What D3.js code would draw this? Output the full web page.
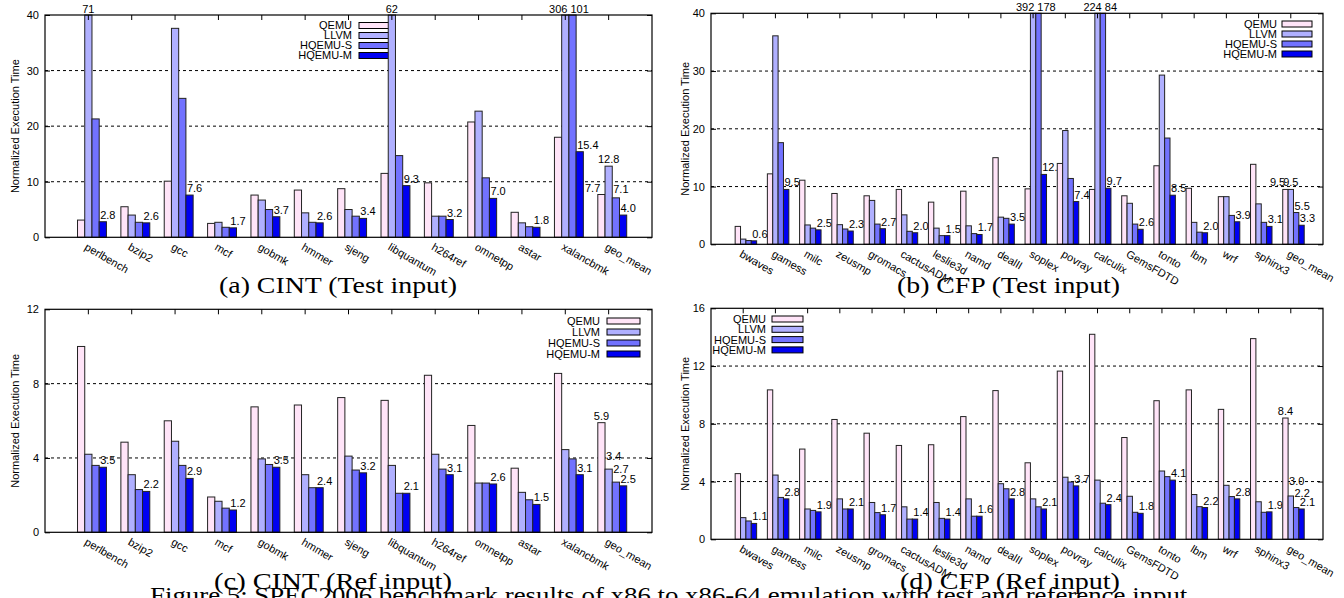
<!DOCTYPE html>
<html><head><meta charset="utf-8">
<script src="https://cdn.jsdelivr.net/npm/d3@7"></script>
<style>body{margin:0;background:#fff} svg{display:block}</style>
</head><body>
<svg id="chart" width="1344" height="598"></svg>
<script>
// ---------- data ----------
const seriesNames = ["QEMU", "LLVM", "HQEMU-S", "HQEMU-M"];
const seriesColors = ["#ffe4f8", "#b0b0ff", "#7272ff", "#0000f2"];

const cintCategories = ["perlbench","bzip2","gcc","mcf","gobmk","hmmer","sjeng","libquantum","h264ref","omnetpp","astar","xalancbmk","geo_mean"];
const cfpCategories = ["bwaves","gamess","milc","zeusmp","gromacs","cactusADM","leslie3d","namd","dealII","soplex","povray","calculix","GemsFDTD","tonto","lbm","wrf","sphinx3","geo_mean"];

// (a) CINT, test input
const cintTestQEMU  = [3.1, 5.5, 10.1, 2.5, 7.6, 8.5, 8.75, 11.5, 9.8, 20.75, 4.5, 18.0, 7.7];
const cintTestLLVM  = [71, 4.0, 37.6, 2.7, 6.7, 4.4, 5.0, 62, 3.8, 22.7, 2.6, 306, 12.8];
const cintTestHQS   = [21.3, 2.7, 25.0, 1.8, 5.0, 2.7, 3.8, 14.7, 3.8, 10.7, 1.9, 101, 7.1];
const cintTestHQM   = [2.8, 2.6, 7.6, 1.7, 3.7, 2.6, 3.4, 9.3, 3.2, 7.0, 1.8, 15.4, 4.0];

// (b) CFP, test input
const cfpTestQEMU = [3.1, 12.2, 11.1, 8.8, 8.4, 9.5, 7.3, 9.2, 15.0, 9.6, 14.0, 9.5, 8.4, 13.6, 9.7, 8.25, 13.85, 9.5];
const cfpTestLLVM = [0.9, 36.1, 3.35, 3.4, 7.6, 5.1, 2.8, 3.2, 4.7, 392, 19.7, 224, 7.1, 29.3, 3.8, 8.25, 7.0, 9.5];
const cfpTestHQS  = [0.65, 17.6, 2.8, 2.65, 3.5, 2.25, 1.5, 1.85, 4.5, 178, 11.4, 84, 3.5, 18.4, 2.1, 5.0, 3.8, 5.5];
const cfpTestHQM  = [0.6, 9.5, 2.5, 2.3, 2.7, 2.0, 1.5, 1.7, 3.5, 12.1, 7.4, 9.7, 2.6, 8.5, 2.0, 3.9, 3.1, 3.3];

// (c) CINT, ref input
const cintRefQEMU = [10.0, 4.85, 6.0, 1.9, 6.75, 6.85, 7.25, 7.1, 8.45, 5.75, 3.45, 8.55, 5.9];
const cintRefLLVM = [4.2, 3.1, 4.9, 1.67, 3.95, 3.1, 4.1, 3.6, 4.2, 2.65, 2.15, 4.45, 3.4];
const cintRefHQS  = [3.6, 2.3, 3.6, 1.3, 3.65, 2.4, 3.35, 2.1, 3.4, 2.65, 1.75, 3.95, 2.7];
const cintRefHQM  = [3.5, 2.2, 2.9, 1.2, 3.5, 2.4, 3.2, 2.1, 3.1, 2.6, 1.5, 3.1, 2.5];

// (d) CFP, ref input
const cfpRefQEMU = [4.55, 10.35, 6.25, 8.3, 7.35, 6.5, 6.55, 8.5, 10.3, 5.3, 11.65, 14.2, 7.05, 9.6, 10.35, 9.0, 13.9, 8.4];
const cfpRefLLVM = [1.5, 4.45, 2.1, 2.8, 2.55, 2.25, 2.55, 2.8, 3.85, 2.8, 4.3, 4.1, 2.98, 4.73, 3.1, 3.74, 2.6, 3.0];
const cfpRefHQS  = [1.27, 2.9, 2.0, 2.1, 1.85, 1.4, 1.45, 1.6, 3.5, 2.25, 3.97, 2.5, 1.87, 4.34, 2.26, 2.96, 1.87, 2.2];
const cfpRefHQM  = [1.1, 2.8, 1.9, 2.1, 1.7, 1.4, 1.4, 1.6, 2.8, 2.1, 3.7, 2.4, 1.8, 4.1, 2.2, 2.8, 1.9, 2.1];

const yTicksTest = [0, 10, 20, 30, 40];
const yTicksCintRef = [0, 4, 8, 12];
const yTicksCfpRef = [0, 4, 8, 12, 16];

const yAxisTitle = "Normalized Execution Time";
const captionA = "(a) CINT (Test input)";
const captionB = "(b) CFP (Test input)";
const captionC = "(c) CINT (Ref input)";
const captionD = "(d) CFP (Ref input)";
const figureCaption = "Figure 5: SPEC2006 benchmark results of x86 to x86-64 emulation with test and reference input.";

// ---------- layout ----------
const panels = [
  { cats: cintCategories, data: [cintTestQEMU, cintTestLLVM, cintTestHQS, cintTestHQM], yTicks: yTicksTest,
    box: {l: 45, r: 652, t: 15, b: 237.3}, ylabX: 18.5,
    legend: {tr: 352, sx: 359, sw: 34, y0: 25.5, dy: 10},
    geoAnchors: ["end", "middle", "start", "start"], geoRaise: [0, 0, 2, 0],
    caption: captionA, cap: {x: 219, y: 293, w: 238} },
  { cats: cfpCategories, data: [cfpTestQEMU, cfpTestLLVM, cfpTestHQS, cfpTestHQM], yTicks: yTicksTest,
    box: {l: 711, r: 1323, t: 13.3, b: 244.3}, ylabX: 688.5,
    legend: {tr: 1277, sx: 1282, sw: 30, y0: 24, dy: 10},
    geoAnchors: ["end", "middle", "start", "start"], geoRaise: [0, 0, 0, 0],
    caption: captionB, cap: {x: 897, y: 293, w: 223} },
  { cats: cintCategories, data: [cintRefQEMU, cintRefLLVM, cintRefHQS, cintRefHQM], yTicks: yTicksCintRef,
    box: {l: 45, r: 652, t: 309.3, b: 532.3}, ylabX: 18.5,
    legend: {tr: 600, sx: 607, sw: 33, y0: 321, dy: 11},
    geoAnchors: ["middle", "start", "start", "start"], geoRaise: [0, 6, 6, 0],
    caption: captionC, cap: {x: 214, y: 589, w: 238} },
  { cats: cfpCategories, data: [cfpRefQEMU, cfpRefLLVM, cfpRefHQS, cfpRefHQM], yTicks: yTicksCfpRef,
    box: {l: 711, r: 1323, t: 308.3, b: 539.3}, ylabX: 688.5,
    legend: {tr: 766, sx: 772, sw: 31, y0: 319, dy: 10.3},
    geoAnchors: ["middle", "start", "start", "start"], geoRaise: [0, 8, 8, 0],
    caption: captionD, cap: {x: 900, y: 589, w: 220} }
];

const sans = "'Liberation Sans', Arial, Helvetica, sans-serif";
const serif = "'Liberation Serif', 'DejaVu Serif', serif";
const svg = d3.select("#chart");
svg.append("rect").attr("width", 1344).attr("height", 598).attr("fill", "#fff");

panels.forEach(p => {
  const g = svg.append("g").attr("font-family", sans);
  const n = p.cats.length;
  const yMax = d3.max(p.yTicks);
  const s = (p.box.r - p.box.l) / (n + 1);
  const x = d3.scaleBand().domain(p.cats).range([p.box.l + s / 2, p.box.r - s / 2]).padding(0);
  const w = s / 6;
  const xs = d3.scaleBand().domain(seriesNames).range([-1.5 * w, 2.5 * w]).padding(0);
  const y = d3.scaleLinear().domain([0, yMax]).range([p.box.b, p.box.t]);
  const cx = c => x(c) + x.bandwidth() / 2;
  const barLeft = (c, j) => cx(c) + xs(seriesNames[j]);

  // grid (dotted, interior ticks)
  g.append("g").selectAll("line").data(p.yTicks.filter(t => t > 0 && t < yMax)).join("line")
    .attr("x1", p.box.l).attr("x2", p.box.r)
    .attr("y1", d => y(d)).attr("y2", d => y(d))
    .attr("stroke", "#000").attr("stroke-width", 1).attr("stroke-dasharray", "3,3");

  // legend
  const lg = g.append("g").attr("font-size", 11);
  seriesNames.forEach((nm, j) => {
    const yy = p.legend.y0 + j * p.legend.dy;
    lg.append("text").attr("x", p.legend.tr).attr("y", yy).attr("dy", "0.36em")
      .attr("text-anchor", "end").attr("fill", "#000").text(nm);
    lg.append("rect").attr("x", p.legend.sx).attr("y", yy - 3).attr("width", p.legend.sw).attr("height", 6)
      .attr("fill", seriesColors[j]).attr("stroke", "#000").attr("stroke-width", 1);
  });

  // value labels
  const labels = [];
  p.cats.forEach((c, i) => {
    const vals = p.data.map(a => a[i]);
    const over = [];
    vals.forEach((v, j) => { if (v > yMax) over.push(j); });
    if (over.length) {
      labels.push({
        x: d3.mean(over, j => barLeft(c, j) + w / 2), y: p.box.t - 2.5, anchor: "middle",
        text: over.map(j => d3.format("d")(vals[j])).join(" ")
      });
    }
    const isGeo = c === "geo_mean";
    (isGeo ? [0, 1, 2, 3] : [3]).forEach(j => {
      const v = vals[j];
      if (v > yMax) return;
      const anchor = isGeo ? p.geoAnchors[j] : "start";
      const raise = isGeo ? p.geoRaise[j] : 0;
      const left = barLeft(c, j);
      const xx = anchor === "start" ? left + 1 : anchor === "middle" ? left + w / 2 : left + 2.5;
      labels.push({x: xx, y: y(v) - 3 - raise, anchor, text: d3.format(".1f")(v)});
    });
  });
  g.append("g").attr("font-size", 11).selectAll("text").data(labels).join("text")
    .attr("x", d => d.x).attr("y", d => d.y).attr("text-anchor", d => d.anchor)
    .attr("fill", "#000").text(d => d.text);

  // bars
  const bars = [];
  p.cats.forEach((c, i) => seriesNames.forEach((nm, j) => bars.push({c, j, v: p.data[j][i]})));
  g.append("g").selectAll("rect").data(bars).join("rect")
    .attr("x", d => barLeft(d.c, d.j)).attr("width", xs.bandwidth())
    .attr("y", d => y(Math.min(d.v, yMax)))
    .attr("height", d => p.box.b - y(Math.min(d.v, yMax)))
    .attr("fill", d => seriesColors[d.j])
    .attr("stroke", "#222").attr("stroke-width", 1);

  // frame
  g.append("rect").attr("x", p.box.l).attr("y", p.box.t)
    .attr("width", p.box.r - p.box.l).attr("height", p.box.b - p.box.t)
    .attr("fill", "none").attr("stroke", "#000").attr("stroke-width", 1.2);

  // axes
  const styleAxis = a => a.attr("font-size", 11).attr("font-family", sans)
    .call(q => q.select(".domain").remove());
  g.append("g").attr("transform", `translate(${p.box.l},0)`)
    .call(d3.axisLeft(y).tickValues(p.yTicks).tickSizeInner(-5).tickSizeOuter(0).tickPadding(6))
    .call(styleAxis);
  g.append("g").attr("transform", `translate(${p.box.r},0)`)
    .call(d3.axisRight(y).tickValues(p.yTicks).tickSizeInner(-5).tickSizeOuter(0).tickFormat(""))
    .call(styleAxis);
  g.append("g").attr("transform", `translate(0,${p.box.t})`)
    .call(d3.axisTop(x).tickSizeInner(-5).tickSizeOuter(0).tickFormat(""))
    .call(styleAxis);
  g.append("g").attr("transform", `translate(0,${p.box.b})`)
    .call(d3.axisBottom(x).tickSize(0))
    .call(styleAxis)
    .call(a => a.selectAll("text")
      .attr("x", 0).attr("y", 0).attr("dy", 0)
      .attr("text-anchor", "start")
      .attr("transform", "translate(-4.5,12) rotate(30)"));

  // y title
  g.append("text").attr("transform", `translate(${p.ylabX},${(p.box.t + p.box.b) / 2}) rotate(-90)`)
    .attr("text-anchor", "middle").attr("font-size", 11).attr("fill", "#000").text(yAxisTitle);

  // caption
  svg.append("text").attr("x", p.cap.x).attr("y", p.cap.y)
    .attr("font-family", serif).attr("font-size", 24).attr("fill", "#000")
    .attr("textLength", p.cap.w).attr("lengthAdjust", "spacingAndGlyphs").text(p.caption);
});

svg.append("text").attr("x", 150).attr("y", 603)
  .attr("font-family", serif).attr("font-size", 24).attr("fill", "#000")
  .attr("textLength", 1044).attr("lengthAdjust", "spacingAndGlyphs").text(figureCaption);
</script>
</body></html>
